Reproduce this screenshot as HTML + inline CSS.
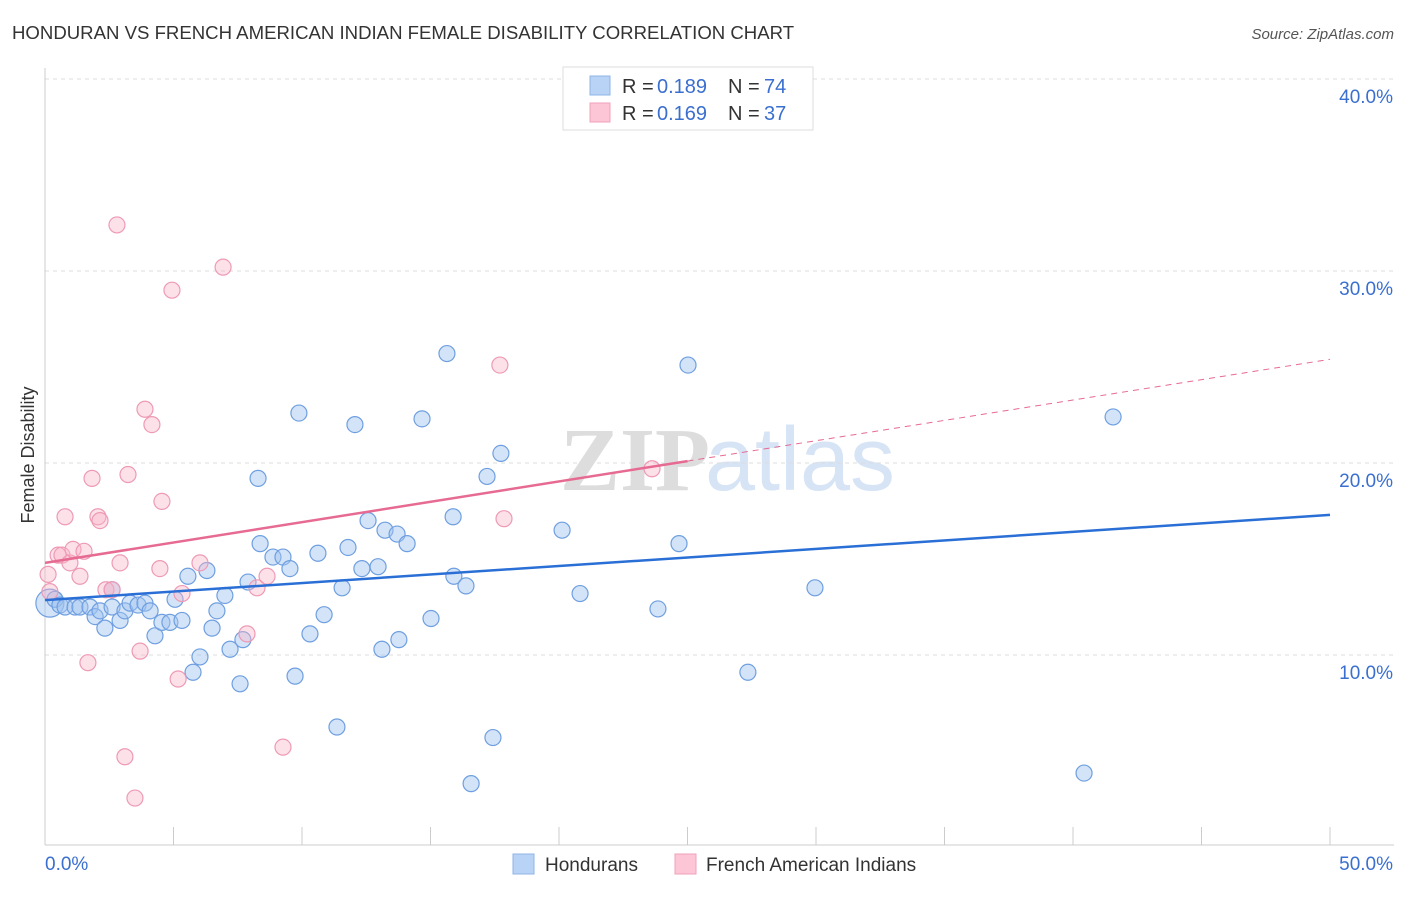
<!DOCTYPE html>
<html><head><meta charset="utf-8"><style>
body{margin:0;background:#fff;font-family:"Liberation Sans",sans-serif;}
</style></head><body>
<svg id="chart" width="1406" height="892" xmlns="http://www.w3.org/2000/svg" font-family="Liberation Sans, sans-serif">
<text x="12" y="39" font-size="18.6" fill="#333">HONDURAN VS FRENCH AMERICAN INDIAN FEMALE DISABILITY CORRELATION CHART</text>
<text x="1394" y="39" font-size="15" fill="#555" text-anchor="end" font-style="italic">Source: ZipAtlas.com</text>
<g font-size="90" text-anchor="middle">
<text x="635" y="490" fill="#ddd" font-family="Liberation Serif, serif" font-weight="bold">ZIP</text>
<text x="800" y="490" fill="#d6e4f5">atlas</text>
</g>
<g id="grid"></g>
<g id="axes"></g>
<g id="marks"></g>
<text transform="translate(34,455) rotate(-90)" font-size="18" fill="#333" text-anchor="middle">Female Disability</text>
<g font-size="20">
<rect x="563" y="67" width="250" height="63" fill="#fff" stroke="#ddd"/>
<rect x="590" y="76" width="20" height="19" fill="#b8d3f5" stroke="#8fb5e8"/>
<rect x="590" y="103" width="20" height="19" fill="#fcc6d6" stroke="#f2a2bb"/>
<text x="622" y="93" fill="#333">R =</text><text x="657" y="93" fill="#3a6fd0">0.189</text>
<text x="728" y="93" fill="#333">N =</text><text x="764" y="93" fill="#3a6fd0">74</text>
<text x="622" y="120" fill="#333">R =</text><text x="657" y="120" fill="#3a6fd0">0.169</text>
<text x="728" y="120" fill="#333">N =</text><text x="764" y="120" fill="#3a6fd0">37</text>
</g>
<g font-size="19" fill="#333">
<rect x="513" y="854" width="21" height="20" fill="#b8d3f5" stroke="#8fb5e8"/>
<text x="545" y="871">Hondurans</text>
<rect x="675" y="854" width="21" height="20" fill="#fcc6d6" stroke="#f2a2bb"/>
<text x="706" y="871">French American Indians</text>
</g>
</svg>
<script>
const blueX=[0.19,0.39,0.58,0.78,1.17,1.36,1.75,1.95,2.14,2.33,2.61,2.61,2.92,3.11,3.31,3.62,3.89,4.09,4.28,4.55,4.86,5.06,5.33,5.56,5.76,6.03,6.30,6.50,6.69,7.00,7.20,7.59,7.70,7.90,8.29,8.37,8.87,9.26,9.53,9.73,9.88,10.31,10.62,10.86,11.36,11.56,11.79,12.06,12.33,12.57,12.96,13.11,13.23,13.70,13.77,14.09,14.67,15.02,15.64,15.88,15.91,16.38,16.58,17.20,17.43,17.74,20.12,20.82,23.85,24.67,25.02,27.35,29.96,40.43,41.56];
const blueY=[12.7,12.9,12.6,12.5,12.5,12.5,12.5,12.0,12.3,11.4,13.4,12.5,11.8,12.3,12.7,12.6,12.7,12.3,11.0,11.7,11.7,12.9,11.8,14.1,9.1,9.9,14.4,11.4,12.3,13.1,10.3,8.5,10.8,13.8,19.2,15.8,15.1,15.1,14.5,8.9,22.6,11.1,15.3,12.1,6.25,13.5,15.6,22.0,14.5,17.0,14.6,10.3,16.5,16.3,10.8,15.8,22.3,11.9,25.7,17.2,14.1,13.6,3.3,19.3,5.7,20.5,16.5,13.2,12.4,15.8,25.1,9.1,13.5,3.85,22.4];
const pinkX=[0.12,0.19,0.51,0.66,0.78,0.97,1.09,1.36,1.52,1.67,1.83,2.06,2.14,2.37,2.61,2.80,2.92,3.11,3.23,3.50,3.70,3.89,4.16,4.47,4.55,4.94,5.18,5.33,6.03,6.93,7.86,8.25,8.64,9.26,17.70,17.86,23.62];
const pinkY=[14.2,13.3,15.2,15.2,17.2,14.8,15.5,14.1,15.4,9.6,19.2,17.2,17.0,13.4,13.4,32.4,14.8,4.7,19.4,2.55,10.2,22.8,22.0,14.5,18.0,29.0,8.75,13.2,14.8,30.2,11.1,13.5,14.1,5.2,25.1,17.1,19.7];
const blueTrend=[12.86,17.3];
const pinkTrend=[14.8,25.4];
const yTicks=[10,20,30,40];
const NS="http://www.w3.org/2000/svg";
const sx=v=>45+v*25.7, sy=v=>847-v*19.2;
function mk(parent,tag,attrs){const e=document.createElementNS(NS,tag);for(const k in attrs)e.setAttribute(k,attrs[k]);document.getElementById(parent).appendChild(e);return e;}
yTicks.forEach(t=>{
  const g=mk('grid','line',{x1:45,x2:1394,y1:sy(t),y2:sy(t),stroke:'#ddd','stroke-dasharray':'4,4'});
  
  
  const l=mk('grid','text',{x:1393,y:sy(t)+24,'font-size':19,fill:'#3a6fd0','text-anchor':'end'});
  
  
  l.textContent=t.toFixed(1)+'%';
});
mk('axes','line',{x1:45,x2:45,y1:68,y2:845,stroke:'#ccc'});
const xa=mk('axes','line',{x1:45,x2:1394,y1:845,y2:845,stroke:'#ccc'});


for(let i=0;i<=10;i++){const t=mk('axes','line',{x1:sx(i*5),x2:sx(i*5),y1:827,y2:845,stroke:'#ccc'});}
const xl0=mk('axes','text',{x:45,y:870,'font-size':19,fill:'#3a6fd0'});xl0.textContent='0.0%';


const xl1=mk('axes','text',{x:1393,y:870,'font-size':19,fill:'#3a6fd0','text-anchor':'end'});xl1.textContent='50.0%';


blueX.forEach((x,i)=>{const c=mk('marks','circle',{cx:sx(x),cy:sy(blueY[i]),r:i==0?14:8,fill:'rgba(160,196,240,0.45)',stroke:'#6f9fe0','stroke-width':1.2});

});
pinkX.forEach((x,i)=>{const c=mk('marks','circle',{cx:sx(x),cy:sy(pinkY[i]),r:8,fill:'rgba(250,180,200,0.4)',stroke:'#ee9ab5','stroke-width':1.2});

});
const bt=mk('marks','line',{x1:sx(0),y1:sy(blueTrend[0]),x2:sx(50),y2:sy(blueTrend[1]),stroke:'#2a6fd6','stroke-width':2.5});


const pm=pinkTrend[0]+(pinkTrend[1]-pinkTrend[0])*0.5;
const pt=mk('marks','line',{x1:sx(0),y1:sy(pinkTrend[0]),x2:sx(25),y2:sy(pm),stroke:'#e66a92','stroke-width':2.5});


const pd=mk('marks','line',{x1:sx(25),y1:sy(pm),x2:sx(50),y2:sy(pinkTrend[1]),stroke:'#e66a92','stroke-width':1,'stroke-dasharray':'6,5'});


</script>
</body></html>
